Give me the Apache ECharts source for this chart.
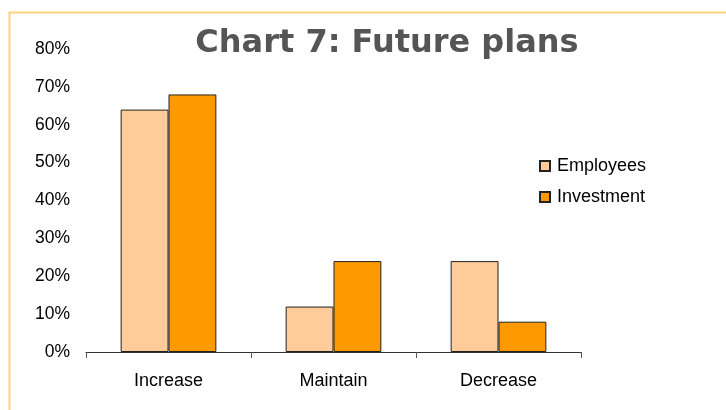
<!DOCTYPE html>
<html><head><meta charset="utf-8">
<script src="https://cdn.jsdelivr.net/npm/echarts@6/dist/echarts.min.js"></script>
<style>html,body{margin:0;padding:0;background:#fff}#c{width:726px;height:410px}</style>
</head><body><div id="c"></div>
<script>
var categories = ['Increase', 'Maintain', 'Decrease'];
var employees = [64, 12, 24];
var investment = [68, 24, 8];
var titleText = 'Chart 7: Future plans';

var chart = echarts.init(document.getElementById('c'), null, {renderer: 'canvas'});
chart.setOption({
  animation: false,
  backgroundColor: '#fff',
  graphic: [{
    type: 'rect', silent: true, z: -1,
    shape: {x: 9.5, y: 12.5, width: 760, height: 420},
    style: {fill: 'none', stroke: '#FFD27F', lineWidth: 2}
  }],
  title: {
    text: titleText, left: 382, top: 23, textAlign: 'center',
    textStyle: {fontFamily: 'DejaVu Sans', fontWeight: 'bold', fontSize: 32, color: '#555555'}
  },
  legend: {
    orient: 'vertical', left: 534, top: 152, itemWidth: 10, itemHeight: 10, itemGap: 13,
    icon: 'rect',
    textStyle: {fontFamily: 'Liberation Sans', fontSize: 18, color: '#000', padding: [0, 0, 0, 2]},
    data: ['Employees', 'Investment']
  },
  grid: {left: 86, right: 145, top: 49, bottom: 58},
  xAxis: {
    type: 'category', data: categories,
    axisLine: {lineStyle: {color: '#333', width: 1}},
    axisTick: {show: true, length: 6, lineStyle: {color: '#555'}},
    axisLabel: {fontFamily: 'Liberation Sans', fontSize: 18, color: '#000', margin: 20}
  },
  yAxis: {
    type: 'value', min: 0, max: 80, interval: 10,
    axisLine: {show: false}, axisTick: {show: false}, splitLine: {show: false},
    axisLabel: {formatter: '{value}%', fontFamily: 'Liberation Sans', fontSize: 17.5, color: '#000', margin: 16}
  },
  series: [
    {name: 'Employees', type: 'bar', data: employees, barGap: '0%', barCategoryGap: '42%',
     itemStyle: {color: '#FFCC99', borderColor: '#222', borderWidth: 1}},
    {name: 'Investment', type: 'bar', data: investment, barGap: '0%', barCategoryGap: '42%',
     itemStyle: {color: '#FF9900', borderColor: '#222', borderWidth: 1}}
  ]
});
</script></body></html>
